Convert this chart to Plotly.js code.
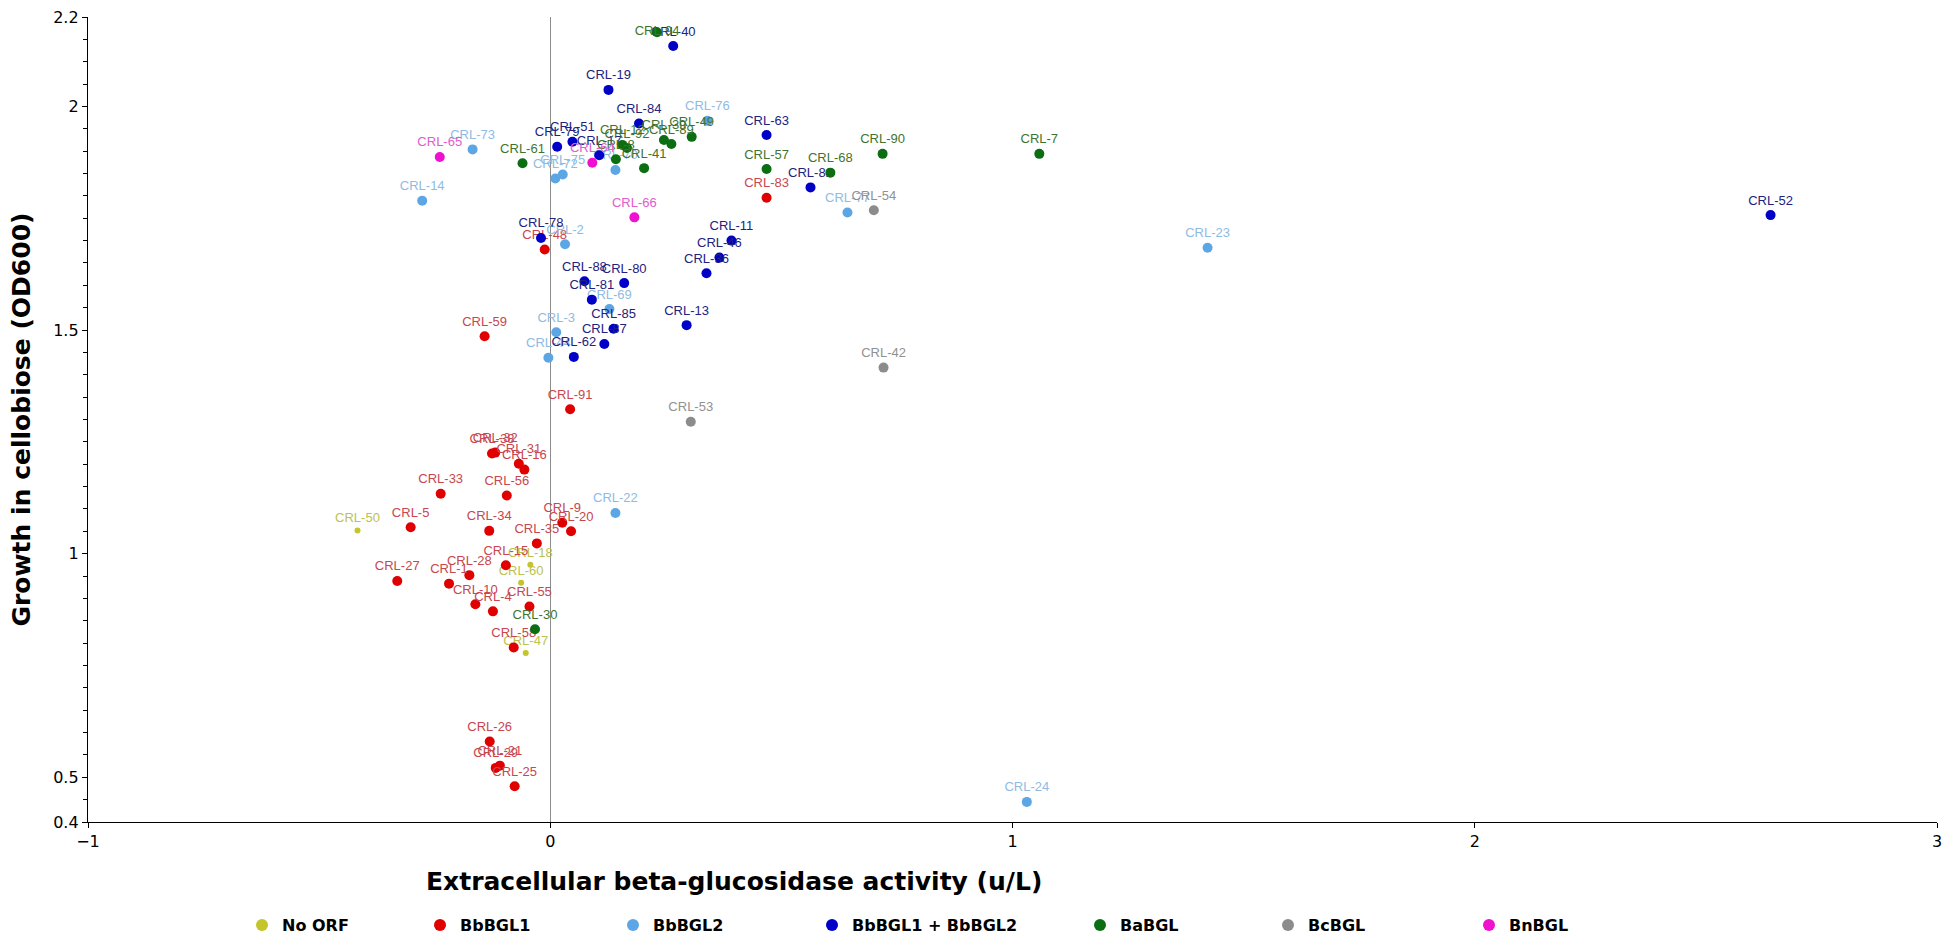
<!DOCTYPE html>
<html>
<head>
<meta charset="utf-8">
<script src="https://cdn.plot.ly/plotly-3.0.1.min.js"></script>
<style>
  html, body { margin: 0; padding: 0; background: #ffffff; }
  #chart { width: 1950px; height: 938px; }
</style>
</head>
<body>
<div id="chart"></div>
<script>
// values: x = extracellular activity (u/L), y = OD600
const noOrfLabels = ['CRL-50', 'CRL-18', 'CRL-60', 'CRL-47']
const noOrfX = [-0.417, -0.043, -0.063, -0.053]
const noOrfY = [1.052, 0.975, 0.935, 0.778]

const bgl1Labels = ['CRL-83', 'CRL-48', 'CRL-59', 'CRL-91', 'CRL-38', 'CRL-32', 'CRL-31', 'CRL-16',
  'CRL-33', 'CRL-56', 'CRL-5', 'CRL-34', 'CRL-9', 'CRL-20', 'CRL-35', 'CRL-15', 'CRL-28', 'CRL-27',
  'CRL-1', 'CRL-10', 'CRL-4', 'CRL-55', 'CRL-58', 'CRL-26', 'CRL-29', 'CRL-21', 'CRL-25']
const bgl1X = [0.468, -0.012, -0.142, 0.043, -0.126, -0.119, -0.068, -0.056,
  -0.237, -0.094, -0.302, -0.132, 0.026, 0.045, -0.029, -0.096, -0.175, -0.331,
  -0.219, -0.162, -0.124, -0.045, -0.079, -0.131, -0.118, -0.109, -0.077]
const bgl1Y = [1.796, 1.680, 1.486, 1.323, 1.224, 1.226, 1.201, 1.188,
  1.134, 1.130, 1.059, 1.051, 1.069, 1.050, 1.023, 0.974, 0.952, 0.939,
  0.933, 0.887, 0.871, 0.882, 0.790, 0.580, 0.521, 0.526, 0.480]

const bgl2Labels = ['CRL-76', 'CRL-73', 'CRL-14', 'CRL-72', 'CRL-75', 'CRL-70', 'CRL-77', 'CRL-23',
  'CRL-2', 'CRL-69', 'CRL-3', 'CRL-44', 'CRL-22', 'CRL-24']
const bgl2X = [0.340, -0.168, -0.277, 0.011, 0.027, 0.141, 0.643, 1.422,
  0.032, 0.128, 0.013, -0.004, 0.141, 1.031]
const bgl2Y = [1.968, 1.904, 1.789, 1.839, 1.848, 1.858, 1.763, 1.684,
  1.692, 1.547, 1.495, 1.438, 1.091, 0.445]

const bothLabels = ['CRL-40', 'CRL-19', 'CRL-84', 'CRL-63', 'CRL-79', 'CRL-51', 'CRL-17', 'CRL-82',
  'CRL-52', 'CRL-78', 'CRL-11', 'CRL-46', 'CRL-36', 'CRL-88', 'CRL-80', 'CRL-81', 'CRL-13',
  'CRL-85', 'CRL-87', 'CRL-62']
const bothX = [0.266, 0.126, 0.192, 0.468, 0.015, 0.048, 0.106, 0.563,
  2.640, -0.020, 0.392, 0.366, 0.338, 0.074, 0.160, 0.090, 0.295,
  0.137, 0.117, 0.051]
const bothY = [2.135, 2.037, 1.962, 1.936, 1.910, 1.921, 1.891, 1.819,
  1.757, 1.706, 1.700, 1.662, 1.627, 1.609, 1.605, 1.568, 1.511,
  1.503, 1.469, 1.440]

const baLabels = ['CRL-94', 'CRL-12', 'CRL-92', 'CRL-39', 'CRL-89', 'CRL-49', 'CRL-61', 'CRL-8',
  'CRL-41', 'CRL-57', 'CRL-68', 'CRL-90', 'CRL-7', 'CRL-30']
const baX = [0.231, 0.156, 0.166, 0.246, 0.262, 0.306, -0.060, 0.142,
  0.203, 0.468, 0.606, 0.719, 1.058, -0.033]
const baY = [2.166, 1.914, 1.907, 1.925, 1.916, 1.932, 1.873, 1.882,
  1.862, 1.860, 1.852, 1.894, 1.894, 0.831]

const bcLabels = ['CRL-54', 'CRL-42', 'CRL-53']
const bcX = [0.700, 0.721, 0.304]
const bcY = [1.768, 1.416, 1.295]

const bnLabels = ['CRL-65', 'CRL-64', 'CRL-66']
const bnX = [-0.239, 0.091, 0.182]
const bnY = [1.887, 1.874, 1.752]

const yTickVals = [0.4, 0.5, 1, 1.5, 2, 2.2]
const yTickText = ['0.4', '0.5', '1', '1.5', '2', '2.2']

const groups = [
  { name: 'No ORF', labels: noOrfLabels, x: noOrfX, y: noOrfY, color: '#c3c52a', textColor: '#bcc24e', size: 6 },
  { name: 'BbBGL1', labels: bgl1Labels, x: bgl1X, y: bgl1Y, color: '#e00000', textColor: '#c8464e', size: 10 },
  { name: 'BbBGL2', labels: bgl2Labels, x: bgl2X, y: bgl2Y, color: '#5ca6e6', textColor: '#8fbbe3', size: 10 },
  { name: 'BbBGL1 + BbBGL2', labels: bothLabels, x: bothX, y: bothY, color: '#0000c8', textColor: '#22227e', size: 10 },
  { name: 'BaBGL', labels: baLabels, x: baX, y: baY, color: '#0b6e12', textColor: '#3f7430', size: 10 },
  { name: 'BcBGL', labels: bcLabels, x: bcX, y: bcY, color: '#8c8c8c', textColor: '#919191', size: 10 },
  { name: 'BnBGL', labels: bnLabels, x: bnX, y: bnY, color: '#f010d0', textColor: '#e25ccc', size: 10 },
]

// legend symbol centres in pixels, one small legend per group
const legendMarkerPx = [262, 440, 633, 832, 1100, 1288, 1489]
const W = 1950
const H = 938

const traces = groups.map((g, i) => ({
  type: 'scatter',
  mode: 'markers+text',
  name: g.name,
  legend: i === 0 ? 'legend' : 'legend' + (i + 1),
  x: g.x,
  y: g.y,
  text: g.labels,
  // the label at the very top sits on its own dot
  textposition: g.labels.map(l => l === 'CRL-94' ? 'middle center' : 'top center'),
  textfont: { family: 'Liberation Sans, Arial, sans-serif', size: 13, color: g.textColor },
  marker: { color: g.color, size: g.size, line: { width: 0 } },
  cliponaxis: false,
  hoverinfo: 'x+y+text',
}))

const layout = {
  width: W,
  height: H,
  showlegend: true,
  margin: { l: 88, r: 13, t: 17, b: 116 },
  paper_bgcolor: '#ffffff',
  plot_bgcolor: '#ffffff',
  font: { family: 'DejaVu Sans, sans-serif', color: '#000000' },
  xaxis: {
    range: [-1, 3],
    tickmode: 'array',
    tickvals: [-1, 0, 1, 2, 3],
    showline: true,
    linecolor: '#000000',
    linewidth: 1.2,
    ticks: 'outside',
    ticklen: 5,
    tickcolor: '#000000',
    showgrid: false,
    zeroline: true,
    zerolinecolor: '#8c8c8c',
    zerolinewidth: 1.5,
    tickfont: { size: 16 },
  },
  yaxis: {
    range: [0.4, 2.2],
    tickmode: 'array',
    tickvals: yTickVals,
    ticktext: yTickText,
    showline: true,
    linecolor: '#000000',
    linewidth: 1.2,
    ticks: 'outside',
    ticklen: 5,
    tickcolor: '#000000',
    showgrid: false,
    zeroline: false,
    tickfont: { size: 16 },
    minor: { tickmode: 'linear', tick0: 0, dtick: 0.05, ticks: 'outside', ticklen: 4, tickcolor: '#000000', showgrid: false },
  },
  annotations: [
    {
      text: 'Extracellular beta-glucosidase activity (u/L)',
      xref: 'paper', yref: 'paper',
      x: (734 - 88) / 1849, y: (822 - 882) / 805,
      showarrow: false, xanchor: 'center', yanchor: 'middle',
      font: { size: 25, weight: 'bold' },
    },
    {
      text: 'Growth in cellobiose (OD600)',
      xref: 'paper', yref: 'paper',
      x: (21 - 88) / 1849, y: 0.5,
      textangle: -90,
      showarrow: false, xanchor: 'center', yanchor: 'middle',
      font: { size: 25, weight: 'bold' },
    },
  ],
}

legendMarkerPx.forEach((px, i) => {
  const key = i === 0 ? 'legend' : 'legend' + (i + 1)
  layout[key] = {
    xref: 'container', yref: 'container',
    x: (px - 20) / W, y: (H - 925) / H,
    xanchor: 'left', yanchor: 'middle',
    orientation: 'h',
    bgcolor: 'rgba(0,0,0,0)',
    itemsizing: 'constant',
    font: { family: 'DejaVu Sans, sans-serif', size: 16, color: '#000000', weight: 'bold' },
  }
})

Plotly.newPlot('chart', traces, layout, { displayModeBar: false, staticPlot: true })
</script>
</body>
</html>
